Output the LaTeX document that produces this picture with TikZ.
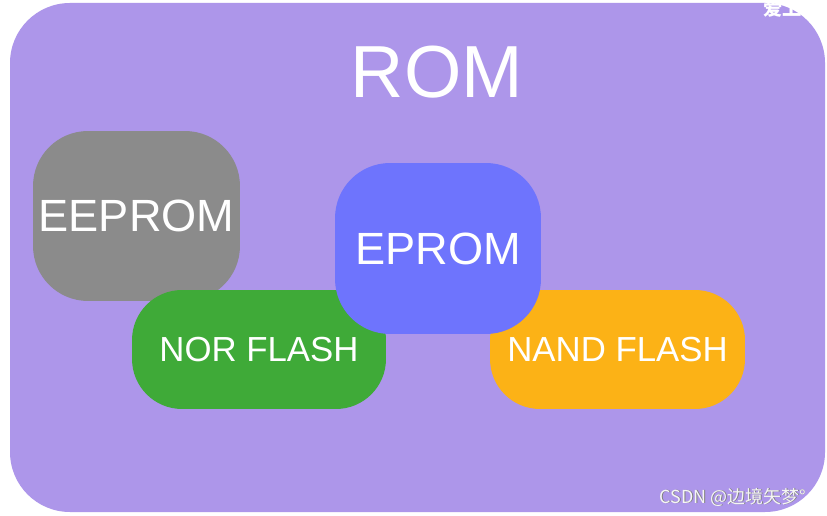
\documentclass[tikz,border=0pt]{standalone}
\usepackage{fontspec}
\setmainfont{Liberation Sans}
\newfontfamily\cjk{Noto Sans CJK SC}
\definecolor{rompurple}{HTML}{AD96EA}
\definecolor{eegray}{HTML}{8B8B8B}
\definecolor{norgreen}{HTML}{3FAA38}
\definecolor{epblue}{HTML}{6E74FD}
\definecolor{nandorange}{HTML}{FCB216}
\begin{document}
\begin{tikzpicture}[x=0.02cm,y=-0.02cm,
    chip/.style={rounded corners=1.1cm, inner sep=0pt, text=white, align=center}]
    \useasboundingbox (0,0) rectangle (827,516);
    \fill[white] (0,0) rectangle (827,516);
    \fill[rompurple, rounded corners=1.2cm] (10,3) rectangle (825,512);
    \node[text=white, font=\fontsize{42}{42}\selectfont] (rom) at (437,72) {ROM};
    \node[chip, fill=eegray, minimum width=4.14cm, minimum height=3.4cm,
          font=\fontsize{25.7}{25.7}\selectfont] (eeprom) at (136.5,216) {EEPROM};
    \node[chip, fill=norgreen, rounded corners=1cm, minimum width=5.08cm, minimum height=2.38cm,
          font=\fontsize{19.8}{19.8}\selectfont] (nor) at (259,349.5) {NOR FLASH};
    \node[chip, fill=nandorange, rounded corners=1cm, minimum width=5.1cm, minimum height=2.38cm,
          font=\fontsize{19.8}{19.8}\selectfont] (nand) at (617.5,349.5) {NAND FLASH};
    \node[chip, fill=epblue, minimum width=4.12cm, minimum height=3.42cm,
          font=\fontsize{25.7}{25.7}\selectfont] (eprom) at (438,248.5) {EPROM};
    % watermarks
    \node[text=gray, font=\cjk\fontsize{10.2}{10.2}\selectfont] at (733.5,497.5) {CSDN @边境矢梦°};
    \node[text=white!92!gray, font=\cjk\fontsize{10.2}{10.2}\selectfont] (mark) at (733,497) {CSDN @边境矢梦°};
    \node[text=white, anchor=west, font=\cjk\bfseries\fontsize{11}{11}\selectfont] (top) at (757,8) {爱上};
\end{tikzpicture}
\end{document}
